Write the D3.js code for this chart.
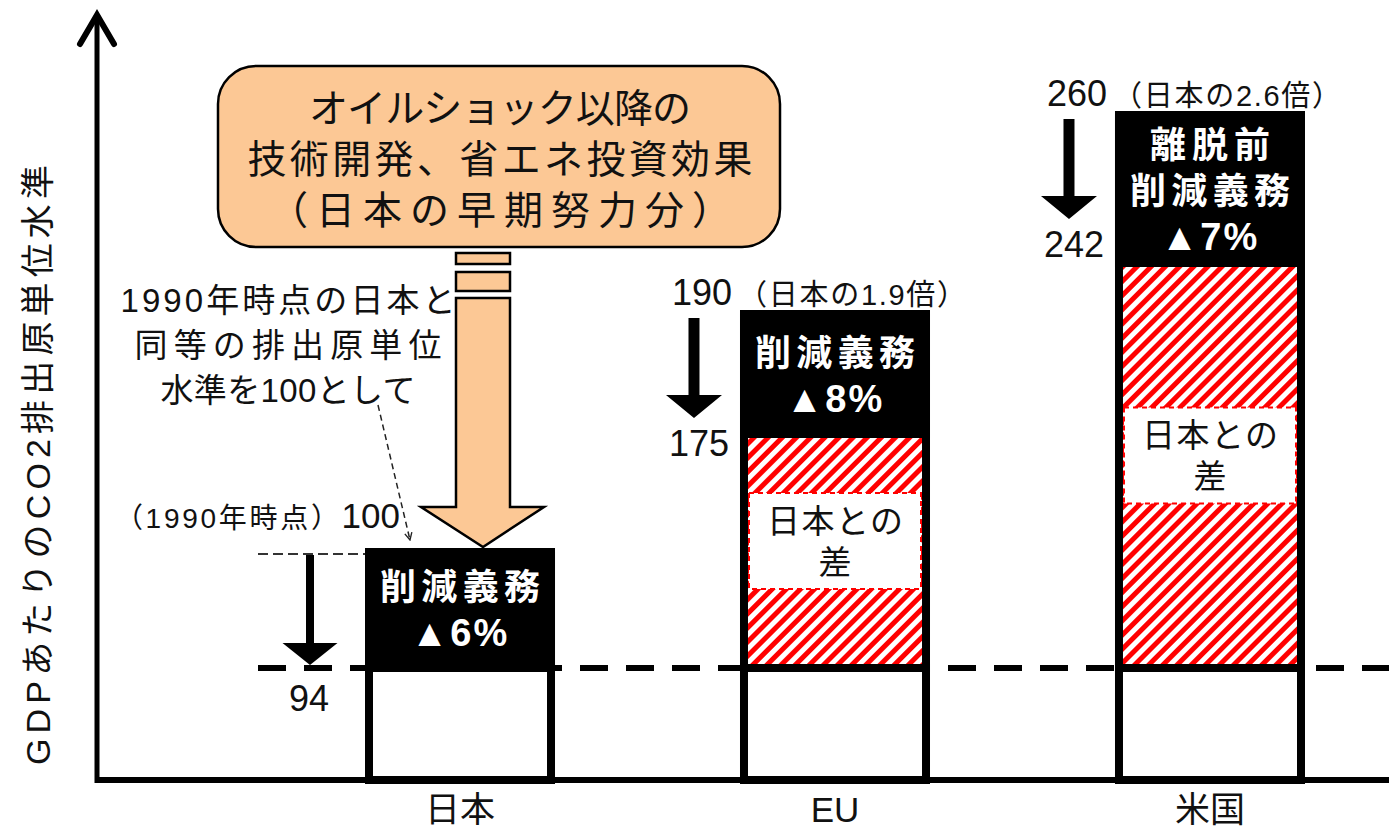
<!DOCTYPE html>
<html>
<head>
<meta charset="utf-8">
<script src="https://cdn.jsdelivr.net/npm/d3@7"></script>
<style>
  body { margin: 0; background: #fff; }
  text { font-family: "Liberation Sans", "Noto Sans CJK JP", sans-serif; fill: #111; }
</style>
</head>
<body>
<svg id="chart" width="1389" height="830"></svg>
<script>
'use strict';

// values (schematic chart, not to scale)
const regions = ['日本', 'EU', '米国'];
const baseLevels = [100, 190, 260];
const targetLevels = [94, 175, 242];
const japanTarget = 94;
const ratioNotes = ['', '（日本の1.9倍）', '（日本の2.6倍）'];
const dutyLines = [['削減義務', '▲6%'], ['削減義務', '▲8%'], ['離脱前', '削減義務', '▲7%']];
const gapLines = ['日本との', '差'];
const yTitle = 'GDPあたりのCO2排出原単位水準';
const calloutLines = ['オイルショック以降の', '技術開発、省エネ投資効果', '（日本の早期努力分）'];
const noteLines = ['1990年時点の日本と', '同等の排出原単位', '水準を100として'];

const svg = d3.select('#chart');
const axisY = 780;

// piecewise scale: the levels are spaced by hand in the original
const levels = d3.sort([0, ...targetLevels, ...baseLevels]);
const y = d3.scaleLinear()
    .domain(levels)
    .range([axisY, 668, 552, 438, 314, 267, 115]);

const x = d3.scaleBand()
    .domain(regions)
    .range([365, 1305])
    .paddingInner(0.4933)
    .paddingOuter(0);
const bw = x.bandwidth();
const sw = 8;

// hatch pattern
const defs = svg.append('defs');
defs.append('pattern')
    .attr('id', 'hatch')
    .attr('patternUnits', 'userSpaceOnUse')
    .attr('width', 10).attr('height', 10)
    .attr('patternTransform', 'rotate(45)')
    .call(p => {
        p.append('rect').attr('width', 10).attr('height', 10).attr('fill', '#fff');
        p.append('rect').attr('width', 5).attr('height', 10).attr('fill', '#ff0000');
    });
defs.append('marker')
    .attr('id', 'open-head')
    .attr('viewBox', '0 0 10 10')
    .attr('refX', 9).attr('refY', 5)
    .attr('markerWidth', 9).attr('markerHeight', 9)
    .attr('markerUnits', 'userSpaceOnUse')
    .attr('orient', 'auto')
    .append('path')
    .attr('d', 'M1,1 L9,5 L1,9')
    .attr('fill', 'none').attr('stroke', '#222').attr('stroke-width', 1.5);

//
// reference lines
//
svg.append('line')
    .attr('x1', 258).attr('x2', 1389)
    .attr('y1', y(japanTarget)).attr('y2', y(japanTarget))
    .attr('stroke', '#000').attr('stroke-width', 6)
    .attr('stroke-dasharray', '28,18');

svg.append('line')
    .attr('x1', 258).attr('x2', x(regions[0]))
    .attr('y1', y(baseLevels[0]) + 2).attr('y2', y(baseLevels[0]) + 2)
    .attr('stroke', '#333').attr('stroke-width', 2)
    .attr('stroke-dasharray', '10,5');

//
// bars
//
const bars = svg.append('g').selectAll('g')
    .data(regions)
    .join('g');

bars.each(function(r, i) {
    const g = d3.select(this);
    const bx = x(r);
    const base = baseLevels[i];
    const target = targetLevels[i];

    g.append('rect')
        .attr('x', bx + sw / 2).attr('y', y(base))
        .attr('width', bw - sw).attr('height', y(0) - y(base))
        .attr('fill', '#fff').attr('stroke', '#000').attr('stroke-width', sw);

    if (target > japanTarget) {
        const top = y(target);
        const bot = y(japanTarget);
        g.append('rect')
            .attr('x', bx + sw).attr('y', top)
            .attr('width', bw - 2 * sw).attr('height', bot - top)
            .attr('fill', 'url(#hatch)');

        const mid = (top + bot) / 2 - 12;
        g.append('rect')
            .attr('x', bx + sw + 1).attr('y', mid - 48)
            .attr('width', bw - 2 * sw - 2).attr('height', 96)
            .attr('fill', '#fff').attr('stroke', '#ff0000')
            .attr('stroke-width', 2).attr('stroke-dasharray', '5,4');

        g.selectAll('text.gap')
            .data(gapLines)
            .join('text')
            .attr('class', 'gap')
            .attr('x', bx + bw / 2)
            .attr('y', (d, k) => mid - 20 + k * 41)
            .attr('text-anchor', 'middle')
            .attr('dominant-baseline', 'central')
            .attr('font-size', 33)
            .attr('textLength', d => d.length > 1 ? 136 : null)
            .attr('lengthAdjust', 'spacing')
            .text(d => d);
    }

    g.append('rect')
        .attr('x', bx).attr('y', y(base))
        .attr('width', bw).attr('height', y(target) - y(base))
        .attr('fill', '#000');

    g.append('line')
        .attr('x1', bx).attr('x2', bx + bw)
        .attr('y1', y(japanTarget)).attr('y2', y(japanTarget))
        .attr('stroke', '#000').attr('stroke-width', sw);

    const lines = dutyLines[i];
    const cy = (y(base) + y(target)) / 2;
    g.selectAll('text.duty')
        .data(lines)
        .join('text')
        .attr('class', 'duty')
        .attr('x', bx + bw / 2)
        .attr('y', (d, k) => cy + (k - (lines.length - 1) / 2) * 46)
        .attr('text-anchor', 'middle')
        .attr('dominant-baseline', 'central')
        .attr('font-size', d => d[0] === '▲' ? 38 : 36)
        .attr('font-weight', 'bold')
        .style('fill', '#fff')
        .attr('letter-spacing', d => d[0] === '▲' ? 2 : null)
        .attr('textLength', d => d.length === 4 ? 160 : (d[0] !== '▲' ? 120 : null))
        .attr('lengthAdjust', 'spacing')
        .text(d => d);
});

//
// axes
//
svg.append('line')
    .attr('x1', 97).attr('x2', 1389)
    .attr('y1', axisY).attr('y2', axisY)
    .attr('stroke', '#000').attr('stroke-width', 6);

svg.append('line')
    .attr('x1', 97).attr('x2', 97)
    .attr('y1', axisY + 3).attr('y2', 16)
    .attr('stroke', '#000').attr('stroke-width', 5);
svg.append('path')
    .attr('d', 'M80,44 L97,15 L114,44')
    .attr('fill', 'none').attr('stroke', '#000')
    .attr('stroke-width', 6).attr('stroke-linecap', 'round').attr('stroke-linejoin', 'miter');

const xAxis = d3.axisBottom(x).tickSize(0).tickPadding(17);
svg.append('g')
    .attr('transform', 'translate(0,' + axisY + ')')
    .call(xAxis)
    .call(g => g.select('.domain').remove())
    .selectAll('text')
    .attr('font-size', 35)
    .attr('font-family', '"Liberation Sans", "Noto Sans CJK JP", sans-serif')
    .style('fill', '#111');

svg.append('text')
    .attr('transform', 'translate(38,465) rotate(-90)')
    .attr('text-anchor', 'middle')
    .attr('dominant-baseline', 'central')
    .attr('font-size', 34)
    .attr('textLength', 600)
    .attr('lengthAdjust', 'spacing')
    .text(yTitle);

//
// reduction arrows and level labels
//
function downArrow(cx, y0, y1, shaft, headW, headH) {
    const h = y1 - headH;
    return 'M' + (cx - shaft / 2) + ',' + y0 +
        'L' + (cx + shaft / 2) + ',' + y0 +
        'L' + (cx + shaft / 2) + ',' + h +
        'L' + (cx + headW / 2) + ',' + h +
        'L' + cx + ',' + y1 +
        'L' + (cx - headW / 2) + ',' + h +
        'L' + (cx - shaft / 2) + ',' + h + 'Z';
}

regions.forEach((r, i) => {
    const bx = x(r);
    if (i === 0) {
        svg.append('path')
            .attr('d', downArrow(310, y(baseLevels[0]) + 3, y(japanTarget) - 3, 8, 55, 22))
            .attr('fill', '#000');
        svg.append('text')
            .attr('x', 309).attr('y', y(targetLevels[0]) + 43)
            .attr('text-anchor', 'middle')
            .attr('font-size', 36)
            .text(targetLevels[0]);
        const t = svg.append('text')
            .attr('x', 400).attr('y', y(baseLevels[0]) - 24)
            .attr('text-anchor', 'end');
        t.append('tspan').attr('font-size', 28)
            .attr('textLength', 224).attr('lengthAdjust', 'spacing')
            .text('（1990年時点）');
        t.append('tspan').attr('font-size', 35).text(baseLevels[0]);
        return;
    }
    const ax = bx - 46;
    const top = y(baseLevels[i]);
    svg.append('path')
        .attr('d', downArrow(ax, top + 4, top + 104, 11, 56, 23))
        .attr('fill', '#000');

    const t = svg.append('text')
        .attr('x', bx - 68).attr('y', top - 9);
    t.append('tspan').attr('font-size', 36).text(baseLevels[i]);
    t.append('tspan').attr('font-size', 29).attr('dx', 6)
        .attr('textLength', 228).attr('lengthAdjust', 'spacing')
        .text(ratioNotes[i]);

    svg.append('text')
        .attr('x', bx - 71).attr('y', top + 142)
        .attr('font-size', 36)
        .text(targetLevels[i]);
});

//
// callout box and block arrow
//
svg.append('rect')
    .attr('x', 218).attr('y', 66)
    .attr('width', 562).attr('height', 181)
    .attr('rx', 38).attr('ry', 38)
    .attr('fill', '#fcc895').attr('stroke', '#000').attr('stroke-width', 2.5);

const calloutLen = [382, 505, 462];
svg.selectAll('text.callout')
    .data(calloutLines)
    .join('text')
    .attr('class', 'callout')
    .attr('x', 500)
    .attr('y', (d, k) => 108 + k * 51)
    .attr('text-anchor', 'middle')
    .attr('dominant-baseline', 'central')
    .attr('font-size', 39)
    .attr('textLength', (d, k) => calloutLen[k])
    .attr('lengthAdjust', 'spacing')
    .text(d => d);

const arrowTip = y(baseLevels[0]) - 5;
const peach = '#fcc895';
svg.append('rect').attr('x', 456).attr('y', 253).attr('width', 54).attr('height', 11)
    .attr('fill', peach).attr('stroke', '#000').attr('stroke-width', 2.5);
svg.append('rect').attr('x', 456).attr('y', 272).attr('width', 54).attr('height', 19)
    .attr('fill', peach).attr('stroke', '#000').attr('stroke-width', 2.5);
svg.append('path')
    .attr('d', 'M456,298 L510,298 L510,507 L544,507 L483,' + arrowTip + ' L421,507 L456,507 Z')
    .attr('fill', peach).attr('stroke', '#000').attr('stroke-width', 2.5)
    .attr('stroke-linejoin', 'miter');

//
// note text with dashed pointer
//
const noteLen = [335, 307, 255];
svg.selectAll('text.note')
    .data(noteLines)
    .join('text')
    .attr('class', 'note')
    .attr('x', 288)
    .attr('y', (d, k) => 300 + k * 45)
    .attr('text-anchor', 'middle')
    .attr('dominant-baseline', 'central')
    .attr('font-size', 33)
    .attr('textLength', (d, k) => noteLen[k])
    .attr('lengthAdjust', 'spacing')
    .text(d => d);

svg.append('line')
    .attr('x1', 378).attr('y1', 405)
    .attr('x2', 410).attr('y2', 540)
    .attr('stroke', '#222').attr('stroke-width', 1.5)
    .attr('stroke-dasharray', '6,4')
    .attr('marker-end', 'url(#open-head)');
</script>
</body>
</html>
